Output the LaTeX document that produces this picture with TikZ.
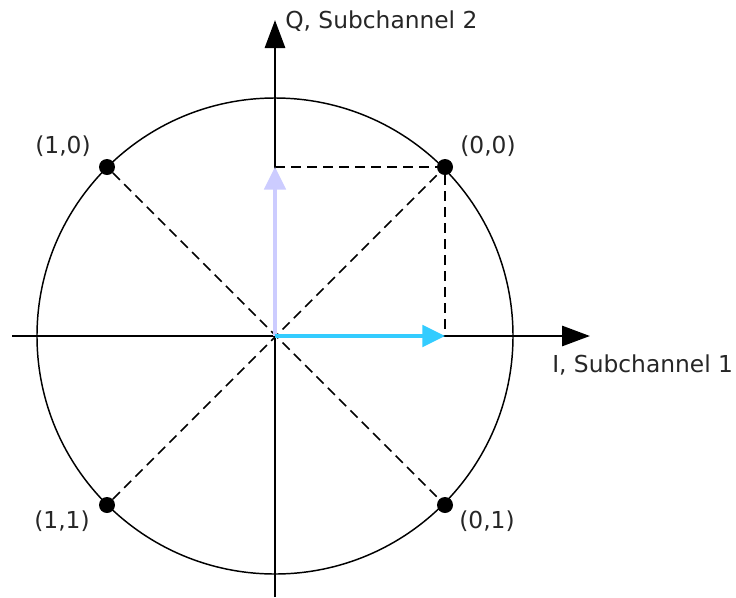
\documentclass[tikz,border=0pt]{standalone}
\usepackage{fontspec}
\setmainfont{DejaVu Sans}
\usetikzlibrary{arrows.meta}
\definecolor{iblue}{RGB}{51,204,255}
\definecolor{qlilac}{RGB}{204,204,255}
\tikzset{
  dot/.style={circle, fill=black, inner sep=0pt, minimum size=12pt},
  lbl/.style={font=\fontsize{17.5}{21}\selectfont, text=black!85, inner sep=0pt},
  axis/.style={line width=2.2pt, -{Triangle[length=21pt, width=15pt]}},
  guide/.style={line width=1.1pt, dash pattern=on 7.5pt off 4.5pt},
  vec/.style={line width=3pt, -{Triangle[length=17pt, width=16pt]}}
}

\begin{document}
\begin{tikzpicture}[x=0.75pt, y=-0.75pt]
\useasboundingbox (0,0) rectangle (736,597);

\coordinate (o) at (275, 336);
\coordinate (west) at (12, 336);
\coordinate (east) at (590, 336);
\coordinate (south) at (275, 597);
\coordinate (north) at (275, 20);
\coordinate (q) at (275, 167);
\coordinate (i) at (445, 336);

\draw[line width=1.1pt] (o) circle [radius=238];

\node (p00) at (445, 167) [dot] {};
\node (p10) at (107, 167) [dot] {};
\node (p11) at (107, 505) [dot] {};
\node (p01) at (445, 505) [dot] {};

\draw[guide] (p10) -- (p01);
\draw[guide] (p11) -- (p00);
\draw[guide] (q) -- (p00.west);
\draw[guide] (p00.south) -- (i);

\draw[axis] (west) -- (east);
\draw[axis] (south) -- (north);

\draw[vec, qlilac] (o) -- (q);
\draw[vec, iblue] (o) -- (i);

\node (l00) at (488, 146) [lbl] {(0,0)};
\node (l10) at (63, 146) [lbl] {(1,0)};
\node (l11) at (62, 521) [lbl] {(1,1)};
\node (l01) at (487, 521) [lbl] {(0,1)};

\node (qlbl) at (285, 21) [lbl, anchor=west] {Q, Subchannel 2};
\node (ilbl) at (552, 365) [lbl, anchor=west] {I, Subchannel 1};
\end{tikzpicture}
\end{document}
